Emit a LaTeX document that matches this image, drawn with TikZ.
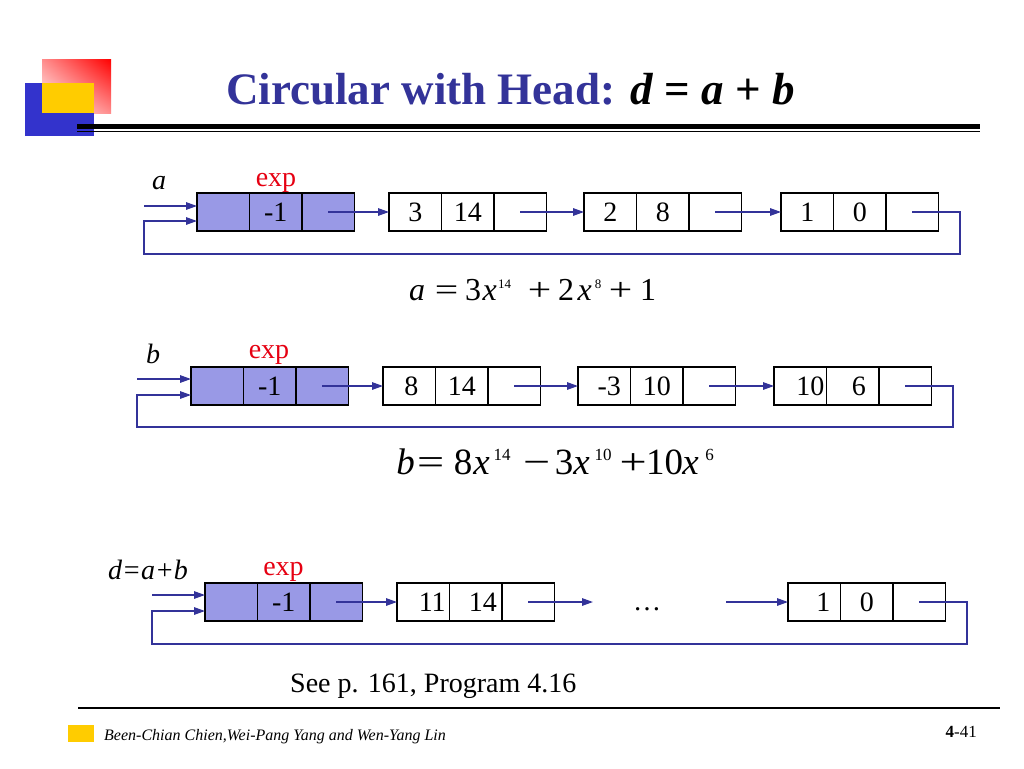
\documentclass[tikz,border=0pt]{standalone}
\usepackage{fontspec}
\setmainfont{Liberation Serif}
\usetikzlibrary{arrows.meta,calc,shadings}
\definecolor{navy}{RGB}{51,51,153}
\definecolor{headfill}{RGB}{153,153,230}
\definecolor{logoblue}{RGB}{51,51,204}
\definecolor{logoyellow}{RGB}{255,204,0}
\definecolor{expred}{RGB}{230,0,18}
\newcommand\myfs[1]{\fontsize{#1pt}{#1pt}\selectfont}
\newcommand\eqat[2]{\makebox[0pt][l]{\hspace{#1pt}\makebox[0pt]{#2}}}
\newcommand\eqsup[1]{\raisebox{12pt}{\myfs{13}#1}}
\newcommand\eqsupb[1]{\raisebox{13.5pt}{\myfs{17}#1}}
\newcommand\wide[1]{\scalebox{1.3}[1]{#1}}
\newcommand\lnode[4]{%
  \node[cell,#4] (#1a) at (#2,#3) {};
  \node[cell,#4] (#1b) at (#1a.east) {};
  \node[cell,#4] (#1c) at (#1b.east) {};
}
\begin{document}
\begin{tikzpicture}[x=1pt,y=-1pt,
  cell/.style={draw=black,line width=1.3pt,minimum width=52.5pt,minimum height=38pt,inner sep=0pt,outer sep=0pt,anchor=west},
  head/.style={fill=headfill},
  num/.style={font=\myfs{28},inner sep=0pt},
  conn/.style={draw=navy,line width=1.4pt,-{Triangle[length=11pt,width=7.5pt]}},
  lbl/.style={font=\myfs{28}\itshape,inner sep=0pt},
  explbl/.style={font=\myfs{28},text=expred,inner sep=0pt},
  eq/.style={font=\myfs{32},inner sep=0pt,anchor=base west}]
\useasboundingbox (0,0) rectangle (1024,768);
\fill[white] (0,0) rectangle (1024,768);
% logo
\shade[upper left=red!45, upper right=red, lower left=white, lower right=red!45] (42,59) rectangle (111,113);
\fill[logoblue] (25,83) rectangle (94,136);
\fill[logoyellow] (42,83) rectangle (94,113);
\draw[black,line width=5pt] (77,126.7) -- (980,126.7);
\draw[black,line width=1.5pt] (77,131.5) -- (980,131.5);
% title
\node[anchor=base west,inner sep=0pt,font=\myfs{45}\bfseries,text=navy] (title) at (226,104)
  {Circular with Head: \textcolor{black}{\textit{d} = \textit{a} + \textit{b}}};

% ---------- list a ----------
\node[lbl] (alab) at (159,183) {a};
\node[explbl] (aexp) at (276,182.5) {exp};
\lnode{a0}{197}{212}{head}
\lnode{a1}{389}{212}{}
\lnode{a2}{584}{212}{}
\lnode{a3}{781}{212}{}
\node[num] (a0t) at (a0b) {-1};
\node[num] (a1t1) at (a1a) {3};
\node[num] (a1t2) at (a1b) {14};
\node[num] (a2t1) at (a2a) {2};
\node[num] (a2t2) at (a2b) {8};
\node[num] (a3t1) at (a3a) {1};
\node[num] (a3t2) at (a3b) {0};
\draw[conn] (a0c.center) -- (a1a.west);
\draw[conn] (a1c.center) -- (a2a.west);
\draw[conn] (a2c.center) -- (a3a.west);
\coordinate (aR) at (960,254);
\coordinate (aL) at (144,254);
\coordinate (aIn) at ($(a0a.west)+(0,9)$);
\draw[conn] (a3c.center) -| (aR) -- (aL) |- (aIn);
\coordinate (aS) at (144,206);
\coordinate (aE) at ($(a0a.west)+(0,-6)$);
\draw[conn] (aS) -- (aE);
\node[eq] (aeq) at (408,300)
  {\eqat{8.5}{\textit{a}}\eqat{38}{\wide{=}}\eqat{64.5}{3}\eqat{81}{\textit{x}}\eqat{96}{\eqsup{14}}%
   \eqat{131}{\wide{+}}\eqat{157.5}{2}\eqat{176}{\textit{x}}\eqat{189.5}{\eqsup{8}}%
   \eqat{212}{\wide{+}}\eqat{239.5}{1}};

% ---------- list b ----------
\node[lbl] (blab) at (153,354) {b};
\node[explbl] (bexp) at (269,355) {exp};
\lnode{b0}{191}{386}{head}
\lnode{b1}{383}{386}{}
\lnode{b2}{578}{386}{}
\lnode{b3}{774}{386}{}
\node[num] (b0t) at (b0b) {-1};
\node[num] (b1t1) at ($(b1a)+(2,0)$) {8};
\node[num] (b1t2) at (b1b) {14};
\node[num] (b2t1) at ($(b2a)+(5,0)$) {-3};
\node[num] (b2t2) at (b2b) {10};
\node[num] (b3t1) at ($(b3a)+(10,0)$) {10};
\node[num] (b3t2) at ($(b3b)+(6,0)$) {6};
\draw[conn] (b0c.center) -- (b1a.west);
\draw[conn] (b1c.center) -- (b2a.west);
\draw[conn] (b2c.center) -- (b3a.west);
\coordinate (bR) at (953,427);
\coordinate (bL) at (137,427);
\coordinate (bIn) at ($(b0a.west)+(0,9)$);
\draw[conn] (b3c.center) -| (bR) -- (bL) |- (bIn);
\coordinate (bS) at (137,379);
\coordinate (bE) at ($(b0a.west)+(0,-7)$);
\draw[conn] (bS) -- (bE);
\node[eq,font=\myfs{37}] (beq) at (398,474)
  {\eqat{7}{\textit{b}}\eqat{32}{\wide{=}}\eqat{64.5}{8}\eqat{83}{\textit{x}}\eqat{103.5}{\eqsupb{14}}%
   \eqat{138}{\wide{−}}\eqat{165.5}{3}\eqat{183}{\textit{x}}\eqat{204.5}{\eqsupb{10}}%
   \eqat{234.5}{\wide{+}}\eqat{266}{10}\eqat{292}{\textit{x}}\eqat{311}{\eqsupb{6}}};

% ---------- list d ----------
\node[lbl] (dlab) at (148,569.5) {d=a+b};
\node[explbl] (dexp) at (283.5,572) {exp};
\lnode{d0}{205}{602}{head}
\lnode{d1}{397}{602}{}
\lnode{d2}{788}{602}{}
\node[num] (d0t) at (d0b) {-1};
\node[num] (d1t1) at ($(d1a)+(9,0)$) {11};
\node[num] (d1t2) at ($(d1b)+(7,0)$) {14};
\node[num] (d2t1) at ($(d2a)+(9,0)$) {1};
\node[num] (d2t2) at (d2b) {0};
\node[num,anchor=base] (ddots) at (647,610) {…};
\draw[conn] (d0c.center) -- (d1a.west);
\coordinate (dM1) at (593,602);
\draw[conn] (d1c.center) -- (dM1);
\coordinate (dM2) at (726,602);
\draw[conn] (dM2) -- (d2a.west);
\coordinate (dR) at (967,644);
\coordinate (dL) at (152,644);
\coordinate (dIn) at ($(d0a.west)+(0,9)$);
\draw[conn] (d2c.center) -| (dR) -- (dL) |- (dIn);
\coordinate (dS) at (152,595);
\coordinate (dE) at ($(d0a.west)+(0,-7)$);
\draw[conn] (dS) -- (dE);

\node[anchor=base west,inner sep=0pt,font=\myfs{28}] (see) at (290,692) {See p. 161, Program 4.16};

% footer
\draw[black,line width=1.5pt] (78,708) -- (1000,708);
\fill[logoyellow] (68,725) rectangle (94,742);
\node[anchor=base west,inner sep=0pt,font=\myfs{16}\itshape] (foot) at (104,740) {Been-Chian Chien,Wei-Pang Yang and Wen-Yang Lin};
\node[anchor=base east,inner sep=0pt,font=\myfs{17}] (page) at (977,737) {\textbf{4}-41};
\end{tikzpicture}
\end{document}
